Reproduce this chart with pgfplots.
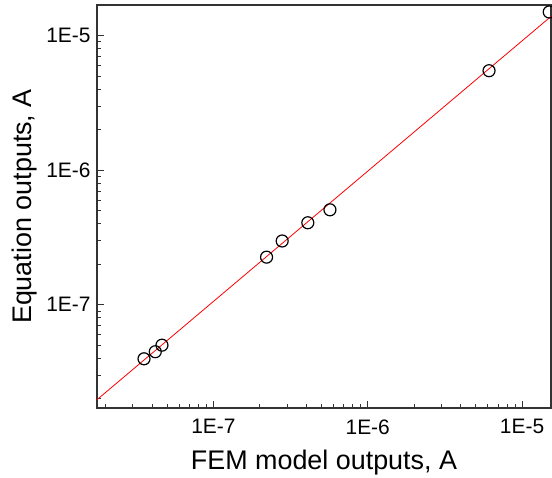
\documentclass[border=0pt]{standalone}
\usepackage{fontspec}
\setmainfont{Liberation Sans}
\usepackage{pgfplots}
\pgfplotsset{compat=1.18}
\begin{document}
\begin{tikzpicture}
\begin{axis}[
  scale only axis, width=454bp, height=403bp,
  xmode=log, ymode=log,
  xmin=1.76e-8, xmax=1.54e-5, ymin=1.71e-8, ymax=1.69e-5,
  axis line style={line width=1.1bp, black!80},
  tick align=inside, xtick pos=bottom, ytick pos=left,
  major tick length=7bp, minor tick length=4bp,
  every tick/.style={black!80, line width=0.9bp},
  xtick={1e-7,1e-6,1e-5}, xticklabels={1E-7,1E-6,1E-5},
  ytick={1e-7,1e-6,1e-5}, yticklabels={1E-7,1E-6,1E-5},
  minor xtick={2e-8,3e-8,4e-8,5e-8,6e-8,7e-8,8e-8,9e-8,2e-7,3e-7,4e-7,5e-7,6e-7,7e-7,8e-7,9e-7,2e-6,3e-6,4e-6,5e-6,6e-6,7e-6,8e-6,9e-6},
  minor ytick={2e-8,3e-8,4e-8,5e-8,6e-8,7e-8,8e-8,9e-8,2e-7,3e-7,4e-7,5e-7,6e-7,7e-7,8e-7,9e-7,2e-6,3e-6,4e-6,5e-6,6e-6,7e-6,8e-6,9e-6},
  tick label style={font=\fontsize{21}{25}\selectfont},
  yticklabel style={xshift=-3bp},
  xticklabel style={yshift=-8bp},
  xlabel={FEM model outputs, A},
  ylabel={Equation outputs, A},
  label style={font=\fontsize{27}{32}\selectfont},
  xlabel shift=9bp,
  ylabel shift=2bp,
  clip marker paths=false,
]
\addplot[red, line width=0.8bp] coordinates {(1.76e-8,1.97e-8) (1.54e-5,1.39e-5)};
\addplot[only marks, mark=o, mark size=6bp, mark options={line width=1.2bp, black}] coordinates {
(3.55e-8,3.97e-8)
(4.20e-8,4.48e-8)
(4.64e-8,5.01e-8)
(2.21e-7,2.26e-7)
(2.79e-7,2.98e-7)
(4.09e-7,4.07e-7)
(5.69e-7,5.08e-7)
(6.11e-6,5.49e-6)
(1.50e-5,1.50e-5)
};
\end{axis}
\pgfresetboundingbox
\path ([shift={(-97bp,-70bp)}]current axis.south west) rectangle ([shift={(1bp,5bp)}]current axis.north east);
\end{tikzpicture}
\end{document}
